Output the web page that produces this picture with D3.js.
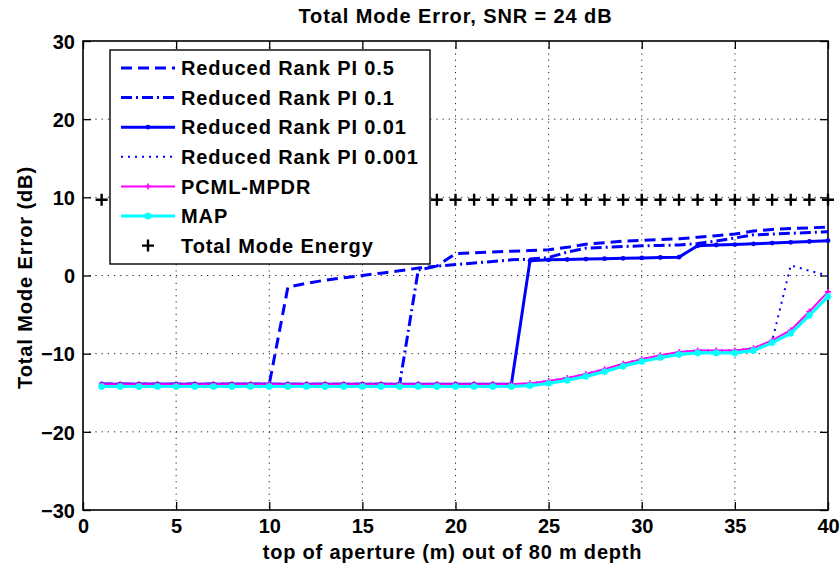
<!DOCTYPE html>
<html>
<head>
<meta charset="utf-8">
<script src="https://cdn.jsdelivr.net/npm/d3@7"></script>
<style>
  html, body { margin: 0; padding: 0; background: #fff; }
  svg { display: block; }
  text { font-family: "Liberation Sans", Arial, Helvetica, sans-serif; font-weight: bold; fill: #000; }
</style>
</head>
<body>
<svg id="chart" width="840" height="566"></svg>
<script>
// ---------- data ----------
const depths = [1,2,3,4,5,6,7,8,9,10,11,12,13,14,15,16,17,18,19,20,
                21,22,23,24,25,26,27,28,29,30,31,32,33,34,35,36,37,38,39,40];

const rrPI05 = [-13.9,-13.9,-13.9,-13.9,-13.9,-13.9,-13.9,-13.9,-13.9,-13.9,
                -1.5,-1.0,-0.6,-0.3,0.0,0.3,0.6,0.95,1.2,2.8,
                2.9,3.0,3.1,3.2,3.3,3.6,4.0,4.2,4.4,4.5,
                4.6,4.7,4.9,5.1,5.3,5.7,5.9,6.0,6.1,6.2];

const rrPI01 = [-13.9,-13.9,-13.9,-13.9,-13.9,-13.9,-13.9,-13.9,-13.9,-13.9,
                -13.9,-13.9,-13.9,-13.9,-13.9,-13.9,-13.9,0.7,1.2,1.4,
                1.6,1.8,2.0,2.1,2.3,3.0,3.5,3.6,3.7,3.8,
                3.85,3.9,4.1,4.4,4.8,5.2,5.3,5.4,5.5,5.6];

const rrPI001 = [-13.9,-13.9,-13.9,-13.9,-13.9,-13.9,-13.9,-13.9,-13.9,-13.9,
                 -13.9,-13.9,-13.9,-13.9,-13.9,-13.9,-13.9,-13.9,-13.9,-13.9,
                 -13.9,-13.9,-13.9,1.9,2.0,2.05,2.1,2.15,2.2,2.25,
                 2.3,2.35,3.8,3.9,3.95,4.05,4.15,4.25,4.35,4.45];

const rrPI0001 = [-13.9,-13.9,-13.9,-13.9,-13.9,-13.9,-13.9,-13.9,-13.9,-13.9,
                  -13.9,-13.9,-13.9,-13.9,-13.9,-13.9,-13.9,-13.9,-13.9,-13.9,
                  -13.9,-13.9,-13.9,-13.8,-13.5,-13.1,-12.6,-12.0,-11.3,-10.7,
                  -10.2,-9.8,-9.6,-9.6,-9.6,-9.3,-8.4,1.3,0.6,0.0];

const pcmlMPDR = [-13.9,-13.9,-13.9,-13.9,-13.9,-13.9,-13.9,-13.9,-13.9,-13.9,
                  -13.9,-13.9,-13.9,-13.9,-13.9,-13.9,-13.9,-13.9,-13.9,-13.9,
                  -13.9,-13.9,-13.9,-13.8,-13.5,-13.1,-12.6,-12.0,-11.3,-10.7,
                  -10.2,-9.8,-9.6,-9.6,-9.6,-9.3,-8.3,-7.0,-4.6,-2.1];

const mapEst = [-14.2,-14.2,-14.2,-14.2,-14.2,-14.2,-14.2,-14.2,-14.2,-14.2,
                -14.2,-14.2,-14.2,-14.2,-14.2,-14.2,-14.2,-14.2,-14.2,-14.2,
                -14.2,-14.2,-14.2,-14.1,-13.8,-13.4,-12.9,-12.3,-11.6,-11.0,
                -10.5,-10.1,-9.9,-9.9,-9.9,-9.6,-8.6,-7.4,-5.1,-2.7];

const totalModeEnergy = [9.7,9.7,9.7,9.7,9.7,9.7,9.7,9.7,9.7,9.7,
                         9.7,9.7,9.7,9.7,9.7,9.7,9.7,9.7,9.7,9.7,
                         9.7,9.7,9.7,9.7,9.7,9.7,9.7,9.7,9.7,9.7,
                         9.7,9.7,9.7,9.7,9.7,9.7,9.7,9.7,9.7,9.7];

const xTicks = [0,5,10,15,20,25,30,35,40];
const yTicks = [-30,-20,-10,0,10,20,30];
const seriesNames = ["Reduced Rank PI 0.5","Reduced Rank PI 0.1","Reduced Rank PI 0.01",
                     "Reduced Rank PI 0.001","PCML-MPDR","MAP","Total Mode Energy"];
const titleText = "Total Mode Error, SNR = 24 dB";
const xLabelText = "top of aperture (m) out of 80 m depth";
const yLabelText = "Total Mode Error (dB)";

// ---------- layout ----------
const svg = d3.select("#chart");
const L = 83, R = 828, T = 41, B = 510;
const x = d3.scaleLinear().domain([0,40]).range([L,R]);
const y = d3.scaleLinear().domain([-30,30]).range([B,T]);

const styles = [
  {name: seriesNames[0], data: rrPI05,  color:"#0000ff", width:3.0, dash:"11,6", marker:null},
  {name: seriesNames[1], data: rrPI01,  color:"#0000ff", width:3.0, dash:"11,4,2,4", marker:null},
  {name: seriesNames[2], data: rrPI001, color:"#0000ff", width:3.0, dash:null, marker:"dot"},
  {name: seriesNames[3], data: rrPI0001,color:"#0000ff", width:2.0, dash:"2,5", marker:null},
  {name: seriesNames[4], data: pcmlMPDR,color:"#ff00ff", width:2.0, dash:null, marker:"plusSmall"},
  {name: seriesNames[5], data: mapEst,  color:"#00ffff", width:3.2, dash:null, marker:"star"},
  {name: seriesNames[6], data: totalModeEnergy, color:"#000000", width:0, dash:null, marker:"plus"}
];

// grid
const grid = svg.append("g").attr("stroke","#222").attr("stroke-width",1).attr("stroke-dasharray","1.2,5");
xTicks.slice(1,-1).forEach(t => grid.append("line").attr("x1",x(t)).attr("x2",x(t)).attr("y1",T).attr("y2",B));
yTicks.slice(1,-1).forEach(t => grid.append("line").attr("x1",L).attr("x2",R).attr("y1",y(t)).attr("y2",y(t)));

// axes with D3 axis generators (ticks inward)
const tickLen = 8;
const fmt = d3.format("d");
const axB = svg.append("g").attr("transform",`translate(0,${B})`)
  .call(d3.axisBottom(x).tickValues(xTicks).tickFormat(fmt).tickSizeInner(-tickLen).tickSizeOuter(0).tickPadding(16));
const axT = svg.append("g").attr("transform",`translate(0,${T})`)
  .call(d3.axisTop(x).tickValues(xTicks).tickFormat("").tickSizeInner(-tickLen).tickSizeOuter(0));
const axL = svg.append("g").attr("transform",`translate(${L},0)`)
  .call(d3.axisLeft(y).tickValues(yTicks).tickFormat(fmt).tickSizeInner(-tickLen).tickSizeOuter(0).tickPadding(8));
const axR = svg.append("g").attr("transform",`translate(${R},0)`)
  .call(d3.axisRight(y).tickValues(yTicks).tickFormat("").tickSizeInner(-tickLen).tickSizeOuter(0));
[axB,axT,axL,axR].forEach(a => {
  a.select(".domain").remove();
  a.selectAll(".tick line").attr("stroke","#000").attr("stroke-width",1.3);
  a.selectAll("text").attr("font-size",20).attr("font-family","Liberation Sans, Arial, sans-serif")
    .attr("font-weight","bold").attr("fill","#000");
});
axB.selectAll("text").attr("dy","0.71em").attr("y",9);
axL.selectAll("text").attr("dy","0.36em");

// box
svg.append("rect").attr("x",L).attr("y",T).attr("width",R-L).attr("height",B-T)
  .attr("fill","none").attr("stroke","#000").attr("stroke-width",1.6);

// series
function drawMarker(g, kind, cx, cy, color) {
  if (kind === "dot") {
    g.append("circle").attr("cx",cx).attr("cy",cy).attr("r",2.4).attr("fill",color);
  } else if (kind === "plusSmall") {
    g.append("path").attr("d",`M${cx-3},${cy}H${cx+3}M${cx},${cy-3}V${cy+3}`)
      .attr("stroke",color).attr("stroke-width",1.6).attr("fill","none");
  } else if (kind === "star") {
    g.append("path").attr("d",`M${cx-3.5},${cy}H${cx+3.5}M${cx},${cy-3.5}V${cy+3.5}M${cx-2.5},${cy-2.5}L${cx+2.5},${cy+2.5}M${cx-2.5},${cy+2.5}L${cx+2.5},${cy-2.5}`)
      .attr("stroke",color).attr("stroke-width",1.8).attr("fill","none");
  } else if (kind === "plus") {
    g.append("path").attr("d",`M${cx-6},${cy}H${cx+6}M${cx},${cy-6}V${cy+6}`)
      .attr("stroke",color).attr("stroke-width",2.4).attr("fill","none");
  }
}

const line = d3.line().x((d,i) => x(depths[i])).y(d => y(d));
styles.forEach(s => {
  const g = svg.append("g");
  if (s.width > 0) {
    g.append("path").datum(s.data).attr("d",line).attr("fill","none")
      .attr("stroke",s.color).attr("stroke-width",s.width)
      .attr("stroke-dasharray",s.dash).attr("stroke-linejoin","round");
  }
  if (s.marker) s.data.forEach((v,i) => drawMarker(g, s.marker, x(depths[i]), y(v), s.color));
});

// legend
const lg = svg.append("g");
lg.append("rect").attr("x",110).attr("y",50).attr("width",320).attr("height",214)
  .attr("fill","#fff").attr("stroke","#000").attr("stroke-width",1.4);
styles.forEach((s,i) => {
  const cy = 68 + i*29.6;
  if (s.width > 0) {
    lg.append("line").attr("x1",121).attr("x2",175).attr("y1",cy).attr("y2",cy)
      .attr("stroke",s.color).attr("stroke-width",s.width).attr("stroke-dasharray",s.dash);
  }
  if (s.marker) drawMarker(lg, s.marker, 148, cy, s.color);
  lg.append("text").attr("x",181).attr("y",cy).attr("dy","0.36em")
    .attr("font-size",20).attr("letter-spacing","0.9px").text(s.name);
});

// title & labels
svg.append("text").attr("x",(L+R)/2).attr("y",23).attr("text-anchor","middle")
  .attr("font-size",20).attr("letter-spacing","0.9px").text(titleText);
svg.append("text").attr("x",(L+R)/2 - 3).attr("y",559).attr("text-anchor","middle")
  .attr("font-size",20).attr("letter-spacing","0.8px").text(xLabelText);
svg.append("text").attr("transform",`translate(32,${(T+B)/2 + 2}) rotate(-90)`).attr("text-anchor","middle")
  .attr("font-size",20).attr("letter-spacing","0.9px").text(yLabelText);
</script>
</body>
</html>
